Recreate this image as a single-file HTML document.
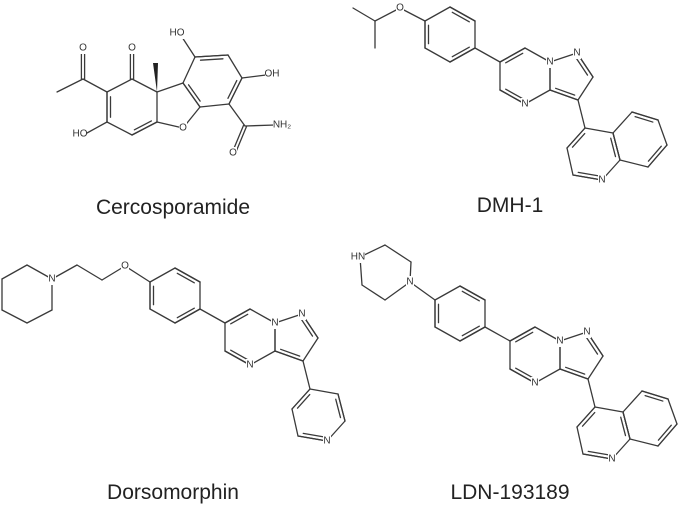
<!DOCTYPE html>
<html><head><meta charset="utf-8"><style>
html,body{margin:0;padding:0;background:#fff;}
svg{display:block}
.t{font-family:"Liberation Sans",sans-serif;font-size:21px;fill:#222;text-anchor:middle}
.a{font-family:"Liberation Sans",sans-serif;font-size:10px;fill:#333;text-anchor:middle;dominant-baseline:central}
</style></head><body>
<svg id="s" width="683" height="505" viewBox="0 0 683 505" xmlns="http://www.w3.org/2000/svg">
<g id="b" stroke="#3a3a3a" stroke-width="1.3" fill="none" stroke-linecap="round"></g>
<g id="l"></g>
<text class="t" x="173" y="214">Cercosporamide</text>
<text class="t" x="510" y="212">DMH-1</text>
<text class="t" x="173" y="499">Dorsomorphin</text>
<text class="t" x="510" y="499">LDN-193189</text>
</svg>
<script>
var B=document.getElementById('b'),L=document.getElementById('l'),NS='http://www.w3.org/2000/svg';
function ln(a,b){var e=document.createElementNS(NS,'line');e.setAttribute('x1',a[0]);e.setAttribute('y1',a[1]);e.setAttribute('x2',b[0]);e.setAttribute('y2',b[1]);B.appendChild(e);}
function inner(a,b,c){ln(a,b);var mx=(a[0]+b[0])/2,my=(a[1]+b[1])/2,dx=b[0]-a[0],dy=b[1]-a[1],len=Math.hypot(dx,dy),nx=-dy/len,ny=dx/len;
 if((c[0]-mx)*nx+(c[1]-my)*ny<0){nx=-nx;ny=-ny;}var o=3.5,s=0.16;
 ln([a[0]+dx*s+nx*o,a[1]+dy*s+ny*o],[b[0]-dx*s+nx*o,b[1]-dy*s+ny*o]);}
function dbl(a,b){var dx=b[0]-a[0],dy=b[1]-a[1],len=Math.hypot(dx,dy),nx=-dy/len*1.6,ny=dx/len*1.6;
 ln([a[0]+nx,a[1]+ny],[b[0]+nx,b[1]+ny]);ln([a[0]-nx,a[1]-ny],[b[0]-nx,b[1]-ny]);}
function lab(t,x,y,w){var r=document.createElementNS(NS,'rect');w=w||t.length*6+2;r.setAttribute('x',x-w/2);r.setAttribute('y',y-6);r.setAttribute('width',w);r.setAttribute('height',12);r.setAttribute('fill','#fff');L.appendChild(r);
 var e=document.createElementNS(NS,'text');e.setAttribute('class','a');e.setAttribute('x',x);e.setAttribute('y',y);e.textContent=t;L.appendChild(e);}
function cen(p){var x=0,y=0;p.forEach(function(q){x+=q[0];y+=q[1]});return [x/p.length,y/p.length];}
function P(o,r){return [o[0]+r[0],o[1]+r[1]];}

// core template relative to C6
function core(o,pyridine){
 var ph=[[-75,-41],[-50,-55],[-25,-41],[-25,-14],[-50,0],[-75,-14]].map(function(r){return P(o,r)});
 var pc=cen(ph);for(var i=0;i<6;i++)ln(ph[i],ph[(i+1)%6]);
 inner(ph[5],ph[0],pc);inner(ph[1],ph[2],pc);inner(ph[3],ph[4],pc);
 var C6=o,C7=P(o,[25,-14]),N7a=P(o,[50,0]),C3a=P(o,[50,28]),N4=P(o,[25,42]),C5=P(o,[0,28]);
 var N1=P(o,[77,-9]),C2=P(o,[93,15]),C3=P(o,[78,38]);
 ln(ph[3],C6);
 var pm=[C6,C7,N7a,C3a,N4,C5],pmc=cen(pm);for(i=0;i<6;i++)ln(pm[i],pm[(i+1)%6]);
 inner(C6,C7,pmc);inner(C5,N4,pmc);
 var pz=[N7a,N1,C2,C3,C3a],pzc=cen(pz);for(i=0;i<5;i++)ln(pz[i],pz[(i+1)%5]);
 inner(N1,C2,pzc);inner(C3,C3a,pzc);
 var C4=P(o,[85,66]),Cq3=P(o,[67,86]),Cq2=P(o,[73,113]),Nq=P(o,[102,118]),C8a=P(o,[120,98]),C4a=P(o,[113,71]);
 ln(C3,C4);
 var r1=[C4,Cq3,Cq2,Nq,C8a,C4a],c1=cen(r1);for(i=0;i<6;i++)ln(r1[i],r1[(i+1)%6]);
 inner(C4,Cq3,c1);inner(Cq2,Nq,c1);
 if(!pyridine){inner(C8a,C4a,c1);
  var C5q=P(o,[132,50]),C6q=P(o,[158,58]),C7q=P(o,[167,83]),C8q=P(o,[148,105]);
  var r2=[C4a,C5q,C6q,C7q,C8q,C8a],c2=cen(r2);for(i=0;i<6;i++)ln(r2[i],r2[(i+1)%6]);
  inner(C5q,C6q,c2);inner(C7q,C8q,c2);}
 else{inner(C8a,C4a,c1);}
 lab('N',N7a[0],N7a[1],8);lab('N',N1[0],N1[1],8);lab('N',N4[0],N4[1],8);lab('N',Nq[0],Nq[1],8);
 return ph;
}
// DMH-1
var ph=core([500,62]);
var CH=[375,21],O=[400,8];ln(CH,[353,8]);ln(CH,[375,48]);ln(CH,O);ln(O,ph[0]);lab('O',O[0],O[1],8);
// Dorsomorphin
ph=core([225,323],true);
var pip=[[52,279],[27,265],[2,279],[2,310],[27,323],[52,310]];for(var i=0;i<6;i++)ln(pip[i],pip[(i+1)%6]);
var c1=[77,265],c2=[102,280],O2=[125,266];ln(pip[0],c1);ln(c1,c2);ln(c2,O2);ln(O2,ph[0]);
lab('N',52,279,8);lab('O',125,266,8);
// LDN
ph=core([510,341]);
var pz=[[410,282],[411,262],[385,245],[360,257],[362,285],[385,300]];for(i=0;i<6;i++)ln(pz[i],pz[(i+1)%6]);
ln(pz[0],ph[0]);lab('N',410,282,8);lab('HN',358,257,14);
// Cercosporamide
var Me=[57,92],Ac=[83,79],AcO=[83,49],C2=[107,92],C1=[132,79],C1O=[132,49],C9b=[157,92],C4a=[157,122],C4=[132,135],C3=[107,122],
 Of=[183,128],C9a=[183,83],Ct=[195,57],Ctr=[228,55],Cr=[242,78],Cbr=[229,104],C4b=[200,107],Am=[245,126];
ln(Me,Ac);dbl(Ac,AcO);ln(Ac,C2);ln(C2,C1);dbl(C1,C1O);ln(C1,C9b);ln(C9b,C4a);ln(C4a,C4);ln(C4,C3);ln(C3,C2);
var r=[C2,C1,C9b,C4a,C4,C3],rc=cen(r);inner(C2,C3,rc);inner(C4,C4a,rc);
ln(C4a,Of);ln(Of,C4b);ln(C9b,C9a);
var bz=[C9a,Ct,Ctr,Cr,Cbr,C4b],bc=cen(bz);for(i=0;i<6;i++)ln(bz[i],bz[(i+1)%6]);
inner(C9a,C4b,bc);inner(Ct,Ctr,bc);inner(Cr,Cbr,bc);
ln(Ct,[180,34]);ln(Cr,[266,75]);ln(Cbr,Am);ln(Am,[275,125]);dbl(Am,[235,150]);ln(C3,[87,133]);
var w=document.createElementNS(NS,'polygon');w.setAttribute('points','157,92 153,63 158,63');w.setAttribute('fill','#222');L.appendChild(w);
lab('O',83,48,8);lab('O',132,48,8);lab('HO',177,33,14);lab('OH',272,74,14);lab('O',183,128,8);lab('O',233,153,8);lab('HO',80,134,14);
lab('NH\u2082',282,125,18);
</script>
</body></html>
